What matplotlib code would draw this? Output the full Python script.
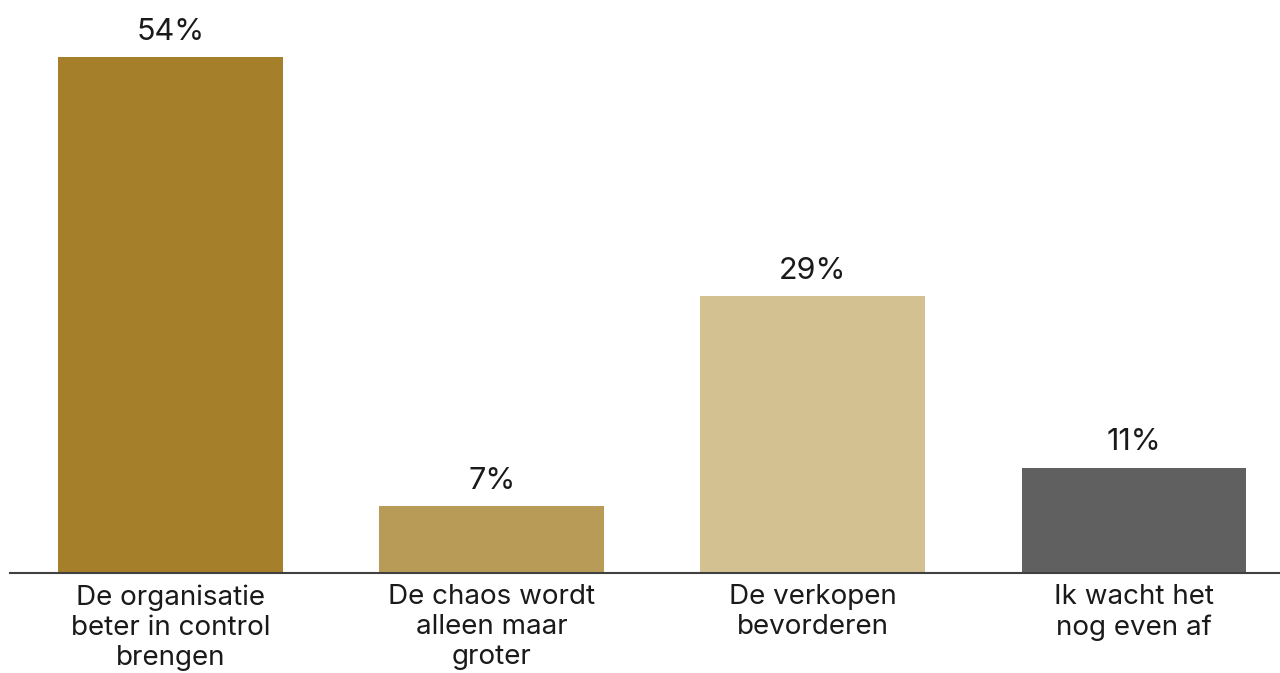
import numpy as np
import matplotlib.pyplot as plt

# survey answers and shares (%)
categories = ['De organisatie\nbeter in control\nbrengen',
              'De chaos wordt\nalleen maar\ngroter',
              'De verkopen\nbevorderen',
              'Ik wacht het\nnog even af']
values = [54, 7, 29, 11]
colors = ['#A67F2A', '#B99B58', '#D4C192', '#606060']

plt.rcParams['font.family'] = ['Inter', 'DejaVu Sans']

fig = plt.figure(figsize=(12.8, 6.73), dpi=100)
ax = fig.add_axes([10 / 1280, 1 - 573 / 673, 1 - 10 / 1280, 573 / 673])

x = np.arange(len(values))
bars = ax.bar(x, values, width=0.70, color=colors)

for b, v in zip(bars, values):
    ax.text(b.get_x() + b.get_width() / 2, v + 1.2, f'{v}%',
            ha='center', va='bottom', fontsize=22, color='#1a1a1a')

ax.set_xlim(-0.5, 3.455)
ax.set_ylim(0, 60)
ax.set_xticks(x)
ax.set_xticklabels(categories, fontsize=20, color='#1a1a1a', linespacing=1.2)
ax.tick_params(axis='x', length=0, pad=8)
ax.set_yticks([])
for s in ['top', 'right', 'left']:
    ax.spines[s].set_visible(False)
ax.spines['bottom'].set_color('#404040')
ax.spines['bottom'].set_linewidth(1.5)

fig.savefig('out.png', dpi=100)
